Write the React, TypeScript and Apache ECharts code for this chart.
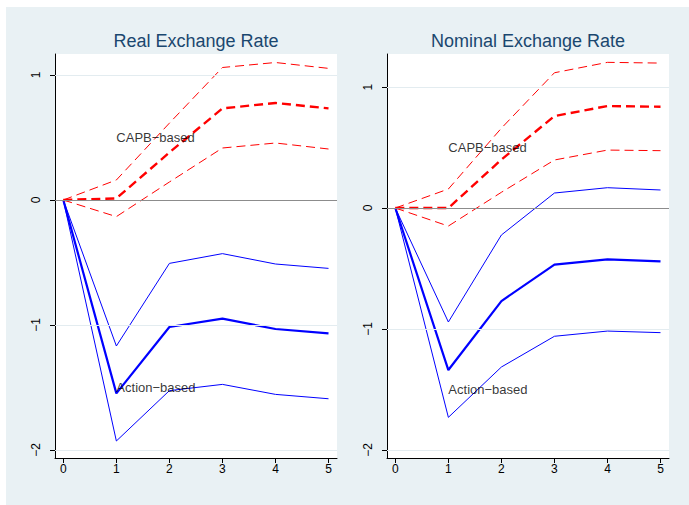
import React, { useEffect, useRef } from "react";
import * as echarts from "echarts";

const steps = [0, 1, 2, 3, 4, 5];
const xTicks = [0, 1, 2, 3, 4, 5];
const yTicks = [-2, -1, 0, 1];
const gridValues = [1, -1, -2];

const panelTitles = ["Real Exchange Rate", "Nominal Exchange Rate"];
const capbLabel = "CAPB\u2212based";
const actionLabel = "Action\u2212based";

// Real exchange rate
const realCapbMean = [0, 0.013, 0.38, 0.733, 0.776, 0.733];
const realCapbUpper = [0, 0.16, 0.615, 1.06, 1.1, 1.053];
const realCapbLower = [0, -0.133, 0.144, 0.416, 0.456, 0.408];
const realActionMean = [0, -1.547, -1.016, -0.949, -1.032, -1.067];
const realActionUpper = [0, -1.168, -0.507, -0.429, -0.512, -0.547];
const realActionLower = [0, -1.928, -1.525, -1.475, -1.555, -1.59];

// Nominal exchange rate
const nomCapbMean = [0, 0, 0.4, 0.76, 0.843, 0.837];
const nomCapbUpper = [0, 0.157, 0.66, 1.118, 1.204, 1.198];
const nomCapbLower = [0, -0.149, 0.13, 0.397, 0.479, 0.474];
const nomActionMean = [0, -1.339, -0.769, -0.468, -0.424, -0.441];
const nomActionUpper = [0, -0.942, -0.223, 0.124, 0.168, 0.149];
const nomActionLower = [0, -1.73, -1.314, -1.06, -1.017, -1.03];

const FONT = "'Liberation Sans', Arial, Helvetica, sans-serif";
const RED = "#ff0000";
const BLUE = "#0000ff";

const pairs = (vals: number[]) => steps.map((s, i) => [s, vals[i]]);
const fmt = (v: number) => (v < 0 ? "\u2212" + Math.abs(v) : String(v));

export default function App() {
  const ref = useRef<HTMLDivElement>(null);

  useEffect(() => {
    document.body.style.margin = "0";
    if (!ref.current) return;
    const chart = echarts.init(ref.current, undefined, { renderer: "svg" });

    const panels = [
      {
        capb: [realCapbMean, realCapbUpper, realCapbLower],
        action: [realActionMean, realActionUpper, realActionLower],
        yMin: -2.064,
        yMax: 1.168,
      },
      {
        capb: [nomCapbMean, nomCapbUpper, nomCapbLower],
        action: [nomActionMean, nomActionUpper, nomActionLower],
        yMin: -2.066,
        yMax: 1.273,
      },
    ];

    const grids = [
      { left: 55, top: 54, width: 282, height: 404 },
      { left: 387, top: 54, width: 282, height: 404 },
    ].map((g) => ({ ...g, show: true, backgroundColor: "#ffffff", borderWidth: 0 }));

    const xAxes = panels.map((_, i) => ({
      type: "value",
      gridIndex: i,
      min: -0.157,
      max: 5.16,
      axisLine: { show: true, onZero: false, lineStyle: { color: "#000", width: 1 } },
      axisTick: { show: true, length: 5, customValues: xTicks, lineStyle: { color: "#000" } },
      axisLabel: {
        show: true,
        customValues: xTicks,
        margin: 5,
        color: "#000",
        fontSize: 12,
        fontFamily: FONT,
        formatter: (v: number) => fmt(v),
      },
      splitLine: { show: false },
    }));

    const yAxes = panels.map((p, i) => ({
      type: "value",
      gridIndex: i,
      min: p.yMin,
      max: p.yMax,
      axisLine: { show: true, onZero: false, lineStyle: { color: "#000", width: 1 } },
      axisTick: { show: true, length: 5, customValues: yTicks, lineStyle: { color: "#000" } },
      axisLabel: {
        show: true,
        customValues: yTicks,
        rotate: 90,
        margin: 13,
        color: "#000",
        fontSize: 12,
        fontFamily: FONT,
        formatter: (v: number) => fmt(v),
      },
      splitLine: { show: false },
    }));

    const series: any[] = [];
    panels.forEach((p, i) => {
      series.push({
        type: "line",
        xAxisIndex: i,
        yAxisIndex: i,
        data: [],
        silent: true,
        z: 1,
        markLine: {
          silent: true,
          symbol: ["none", "none"],
          label: { show: false },
          animation: false,
          data: [
            ...gridValues.map((v) => ({ yAxis: v, lineStyle: { color: "#e3ecf0", width: 1, type: "solid" } })),
            { yAxis: 0, lineStyle: { color: "#8c8c8c", width: 1, type: "solid" } },
          ],
        },
      });
      const [cm, cu, cl] = p.capb;
      const [am, au, al] = p.action;
      const line = (vals: number[], color: string, width: number, dashed: boolean) => ({
        type: "line",
        xAxisIndex: i,
        yAxisIndex: i,
        data: pairs(vals),
        showSymbol: false,
        symbol: "none",
        silent: true,
        z: 3,
        lineStyle: { color, width, type: dashed ? [9, 5] : "solid" },
      });
      series.push(line(au, BLUE, 1, false));
      series.push(line(al, BLUE, 1, false));
      series.push(line(am, BLUE, 2.2, false));
      series.push(line(cu, RED, 1, true));
      series.push(line(cl, RED, 1, true));
      series.push(line(cm, RED, 2.4, true));
      series.push({
        type: "scatter",
        xAxisIndex: i,
        yAxisIndex: i,
        symbolSize: 0,
        silent: true,
        z: 4,
        data: [
          { value: [1, 0.5], label: { formatter: capbLabel } },
          { value: [1, -1.5], label: { formatter: actionLabel } },
        ],
        label: {
          show: true,
          position: "right",
          distance: 0,
          color: "#000",
          fontSize: 13,
          fontFamily: FONT,
        },
      });
    });

    chart.setOption({
      animation: false,
      backgroundColor: "#ffffff",
      graphic: {
        elements: [
          {
            type: "rect",
            z: -100,
            silent: true,
            shape: { x: 6, y: 7, width: 683, height: 498 },
            style: { fill: "#e9f1f4" },
          },
        ],
      },
      title: panelTitles.map((t, i) => ({
        text: t,
        left: i === 0 ? 196 : 528,
        textAlign: "center",
        top: 32,
        padding: 0,
        textStyle: { color: "#1a476f", fontSize: 18, fontWeight: "normal", fontFamily: FONT },
      })),
      grid: grids,
      xAxis: xAxes,
      yAxis: yAxes,
      series,
    });

    return () => chart.dispose();
  }, []);

  return <div ref={ref} style={{ width: 689, height: 505 }} />;
}
